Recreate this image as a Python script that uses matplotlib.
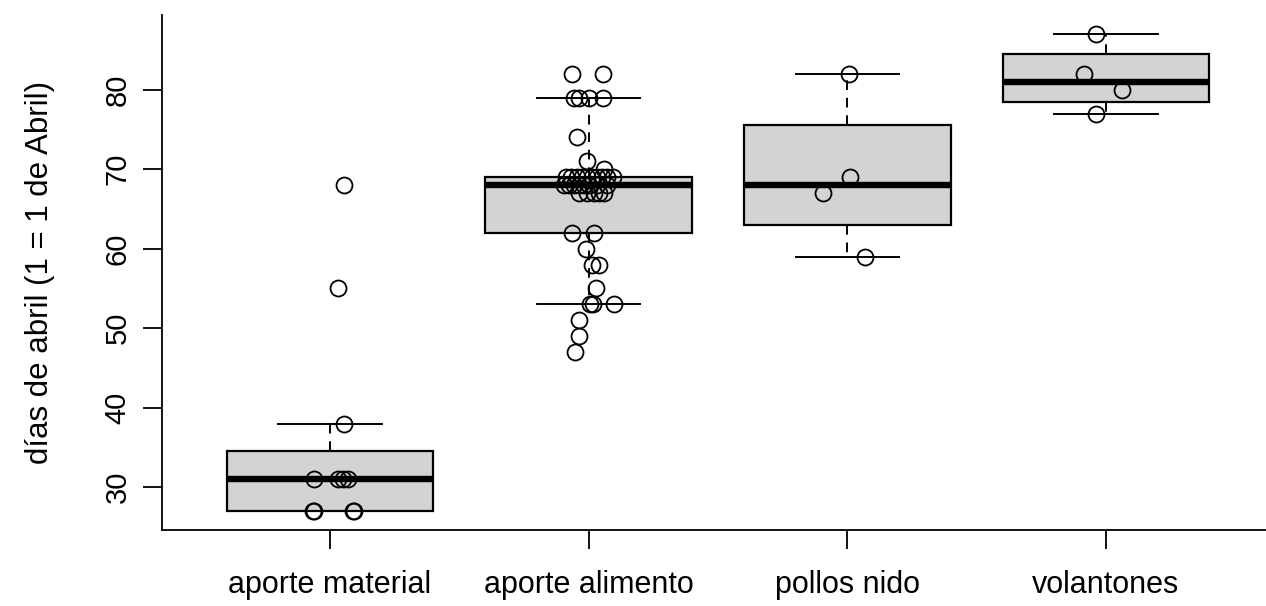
import numpy as np
import matplotlib
matplotlib.use('Agg')
import matplotlib.pyplot as plt

plt.rcParams['font.family'] = ['Liberation Sans', 'DejaVu Sans']

# categories and the day values (1 = 1 de Abril)
cats = ['aporte material', 'aporte alimento', 'pollos nido', 'volantones']

material = [27, 27, 27, 27, 31, 31, 31, 31, 38, 55, 68]
material_jit = [-0.066, 0.093, -0.062, 0.090, -0.062, 0.031, 0.050, 0.070, 0.054, 0.031, 0.054]

alimento = [47, 49, 51, 53, 53, 53, 55, 58, 58, 60, 62, 62,
            67, 67, 67, 67, 67,
            68, 68, 68, 68, 68, 68, 68, 68,
            69, 69, 69, 69, 69, 69, 69, 69, 69, 69,
            70, 71, 74, 79, 79, 79, 79, 82, 82]
alimento_jit = [-0.054, -0.039, -0.039, 0.004, 0.015, 0.097, 0.027, 0.012, 0.039, -0.012, -0.066, 0.019,
                -0.039, -0.008, 0.019, 0.039, 0.058,
                -0.097, -0.077, -0.058, -0.039, -0.019, 0.000, 0.031, 0.070,
                -0.089, -0.070, -0.046, -0.027, -0.008, 0.012, 0.031, 0.050, 0.070, 0.093,
                0.058, -0.008, -0.046, -0.058, -0.039, 0.000, 0.054, -0.066, 0.054]

pollos = [82, 69, 67, 59]
pollos_jit = [0.008, 0.012, -0.093, 0.070]

volantones = [87, 82, 80, 77]
volantones_jit = [-0.039, -0.085, 0.062, -0.039]

groups = [material, alimento, pollos, volantones]
jitters = [material_jit, alimento_jit, pollos_jit, volantones_jit]


def fivenum(x):
    # Tukey hinges, as R's boxplot.stats does it
    x = np.sort(np.asarray(x, dtype=float))
    n = len(x)
    n4 = np.floor((n + 3) / 2) / 2
    d = np.array([1, n4, (n + 1) / 2, n + 1 - n4, n])
    return 0.5 * (x[(np.floor(d) - 1).astype(int)] + x[(np.ceil(d) - 1).astype(int)])


stats = []
for g, lab in zip(groups, cats):
    mn, q1, med, q3, mx = fivenum(g)
    iqr = q3 - q1
    arr = np.asarray(g, dtype=float)
    inside = arr[(arr >= q1 - 1.5 * iqr) & (arr <= q3 + 1.5 * iqr)]
    stats.append(dict(med=med, q1=q1, q3=q3, whislo=inside.min(), whishi=inside.max(),
                      fliers=[], label=lab))

fig = plt.figure(figsize=(12.66, 6.06), dpi=100)
ax = fig.add_axes([162 / 1266, 76 / 606, 1 - 162 / 1266, (530 - 15) / 606])

pos = np.arange(1, len(cats) + 1)
ax.bxp(stats, positions=pos, widths=0.8, capwidths=0.4, showfliers=False, patch_artist=True,
       boxprops=dict(facecolor='#d3d3d3', edgecolor='black', linewidth=1.6),
       medianprops=dict(color='black', linewidth=4.6, solid_capstyle='butt'),
       whiskerprops=dict(color='black', linewidth=1.4, linestyle=(0, (5, 4))),
       capprops=dict(color='black', linewidth=1.4))

# jittered points on top (stripchart style)
for i, (g, j) in enumerate(zip(groups, jitters)):
    ax.plot(pos[i] + np.array(j), g, 'o', mfc='none', mec='black', ms=11.5, mew=1.3, zorder=5)

ax.set_xlim(0.3505, 4.6186)
ax.set_ylim(24.6, 89.4)
ax.set_yticks([30, 40, 50, 60, 70, 80])
ax.set_xticks(pos)
ax.set_xticklabels(cats)
ax.tick_params(axis='both', length=14, width=1.3, labelsize=21, colors='black')
ax.tick_params(axis='x', labelsize=22, pad=15)
ax.tick_params(axis='y', pad=8)
for t in ax.get_yticklabels():
    t.set_rotation(90)
    t.set_va('center')
ax.spines['top'].set_visible(False)
ax.spines['right'].set_visible(False)
ax.spines['left'].set_linewidth(1.3)
ax.spines['bottom'].set_linewidth(1.3)
ax.set_ylabel('días de abril (1 = 1 de Abril)', fontsize=22.5, labelpad=35)

plt.savefig('out.png', dpi=100)
